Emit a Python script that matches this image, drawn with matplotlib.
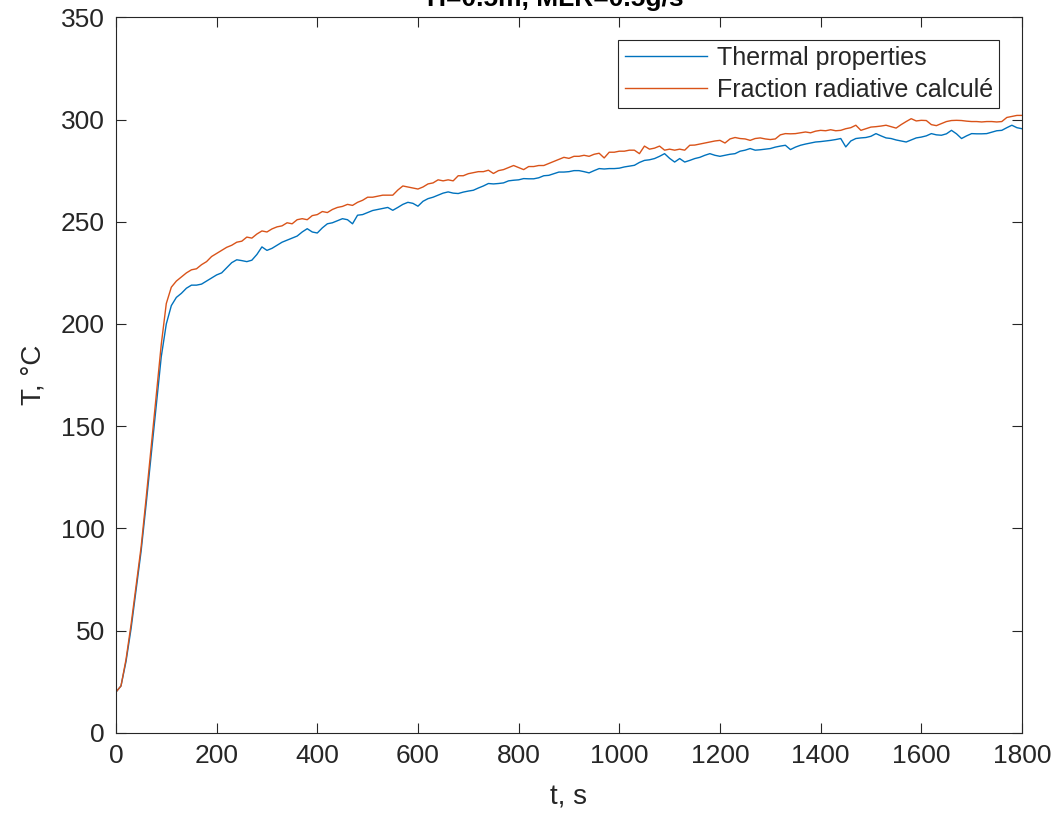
import numpy as np
import matplotlib
matplotlib.use('Agg')
import matplotlib.pyplot as plt
from matplotlib.ticker import MultipleLocator

plt.rcParams['font.family'] = ['Liberation Sans', 'DejaVu Sans']

# temps (s), pas de 10 s
t = np.arange(0, 1801, 10)

# Thermal properties
T_thermal = [
    20, 23, 35, 51, 70, 89, 112, 136, 160, 184,
    200, 209, 213, 215, 217.5, 219, 219, 219.5, 221, 222.5,
    224, 225, 227.5, 230, 231.4, 231, 230.5, 231.2, 234, 237.7,
    236, 237, 238.5, 240, 241, 242, 243, 245, 246.6, 245,
    244.5, 247, 249, 249.5, 250.5, 251.5, 251, 249, 253.2, 253.5,
    254.5, 255.5, 256, 256.5, 257, 255.6, 257, 258.5, 259.5, 259,
    257.6, 260, 261.3, 262, 263, 264, 264.6, 264, 263.8, 264.5,
    265, 265.4, 266.5, 267.5, 268.7, 268.5, 268.7, 269, 270, 270.3,
    270.5, 271.1, 271, 271, 271.5, 272.5, 272.7, 273.5, 274.3, 274.3,
    274.5, 275, 275, 274.5, 273.9, 275, 276, 275.8, 276, 276,
    276.2, 276.8, 277.2, 277.6, 279, 280, 280.3, 280.9, 282, 283.3,
    281, 279.2, 280.9, 279.2, 280, 280.9, 281.5, 282.5, 283.3, 282.5,
    282, 282.5, 283, 283.3, 284.5, 285, 285.8, 285, 285.2, 285.5,
    285.8, 286.5, 287, 287.4, 285.3, 286.5, 287.4, 288, 288.5, 289,
    289.2, 289.5, 289.8, 290.2, 290.7, 286.6, 289.5, 290.7, 291, 291.2,
    291.8, 293.1, 292, 291, 290.7, 290, 289.5, 289, 290, 291,
    291.4, 292, 293.1, 292.5, 292.3, 293, 294.7, 293, 290.7, 292,
    293.1, 293, 293, 293.1, 293.8, 294.5, 294.7, 296, 297.2, 296,
    295.5,
]

# Fraction radiative calculé
T_frac = [
    20, 23, 36, 53, 72, 91, 115, 140, 165, 190,
    210, 218, 221, 223, 225, 226.5, 227, 229, 230.5, 233,
    234.5, 236, 237.5, 238.5, 240, 240.5, 242.5, 242, 244, 245.5,
    245, 246.5, 247.5, 248, 249.5, 249, 251, 251.5, 251, 253,
    253.5, 255, 254.5, 256, 257, 257.5, 258.5, 258, 259.5, 260.5,
    262, 262, 262.5, 263, 263, 263, 265.5, 267.5, 267, 266.5,
    266, 267, 268.5, 269, 270.5, 270, 270.5, 270, 272.5, 272.5,
    273.5, 274, 274.5, 274.5, 275.2, 273.6, 275, 275.5, 276.5, 277.5,
    276.5, 275.5, 277, 277, 277.5, 277.5, 278.5, 279.5, 280.5, 281.5,
    281, 282, 282, 282.5, 282, 283, 283.5, 281.2, 284, 284,
    284.5, 284.5, 285, 285, 283.3, 287, 285.5, 286, 287, 285,
    285.5, 285, 285.5, 285, 287.4, 287.5, 288, 288.5, 289, 289.5,
    289.8, 288.5, 290.5, 291.2, 290.7, 290.5, 289.8, 290.7, 291, 290.5,
    290.2, 290.5, 292.5, 293.1, 293, 293.1, 293.5, 293.9, 293.5, 294.3,
    294.7, 294.5, 295, 294.5, 294.7, 295.5, 296, 297.2, 294.7, 295.5,
    296.3, 296.5, 296.8, 297.2, 296.5, 295.8, 297.5, 299, 300.4, 299.3,
    299.6, 299.5, 297.5, 297, 298, 299, 299.5, 299.6, 299.5, 299.2,
    299, 299, 298.8, 299, 299, 298.8, 299, 301, 301.5, 302,
    302,
]

labels = ['Thermal properties', 'Fraction radiative calculé']
colors = ['#0072BD', '#D95319']
gray = '#262626'

fig = plt.figure(figsize=(10.59, 8.22), dpi=100)
ax = fig.add_axes([0.1095, 0.1083, 0.8555, 0.8707])

ax.plot(t, T_thermal, color=colors[0], lw=1.0, label=labels[0])
ax.plot(t, T_frac, color=colors[1], lw=1.0, label=labels[1])

ax.set_xlim(0, 1800)
ax.set_ylim(0, 350)
ax.xaxis.set_major_locator(MultipleLocator(200))
ax.yaxis.set_major_locator(MultipleLocator(50))
ax.tick_params(direction='in', length=7, width=0.8, top=True, right=True,
               labelsize=19, colors=gray, pad=8)
for s in ax.spines.values():
    s.set_color(gray)
    s.set_linewidth(0.8)

ax.set_xlabel('t, s', fontsize=20, color=gray, labelpad=12)
ax.set_ylabel('T, °C', fontsize=20, color=gray, labelpad=10)
# titre coupé en haut comme dans l'original
ax.set_title('H=0.5m, MLR=0.5g/s', fontsize=19, fontweight='bold',
             color='black', x=0.485, pad=8)

leg = ax.legend(loc='upper right', fontsize=18, handlelength=3.3,
                borderaxespad=0.9, fancybox=False, framealpha=1,
                borderpad=0.25, labelspacing=0.3, handletextpad=0.4)
leg.get_frame().set_edgecolor(gray)
leg.get_frame().set_linewidth(0.8)
for txt in leg.get_texts():
    txt.set_color(gray)

fig.savefig('out.png', dpi=100)
